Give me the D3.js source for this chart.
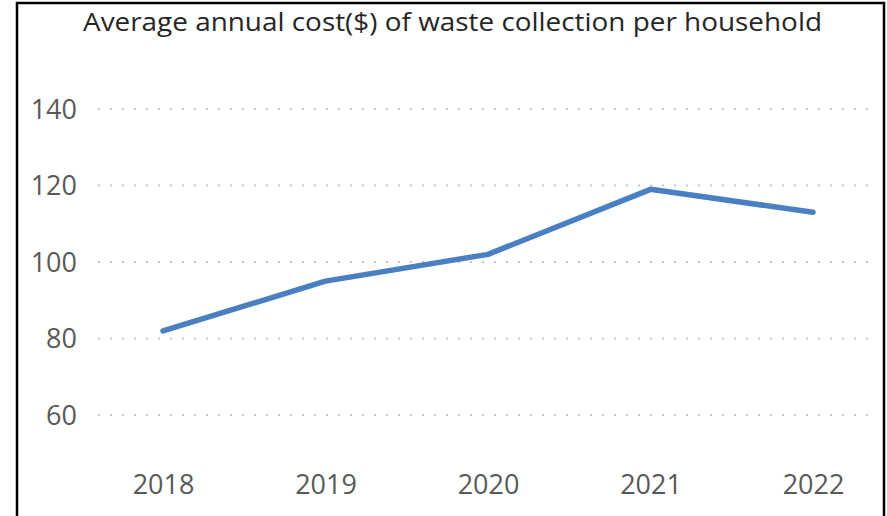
<!DOCTYPE html>
<html><head><meta charset="utf-8">
<script src="https://cdn.jsdelivr.net/npm/d3@7"></script>
<style>
html,body{margin:0;padding:0;background:#fff;}
svg{display:block;}
</style></head>
<body>
<script>
const title = "Average annual cost($) of waste collection per household";
const years = ["2018","2019","2020","2021","2022"];
const costs = [82, 95, 102, 119, 113];
const yTicks = [60, 80, 100, 120, 140];

const W = 887, H = 516;
const svg = d3.select("body").append("svg").attr("width", W).attr("height", H);
svg.append("rect").attr("width", W).attr("height", H).attr("fill", "#fff");

// frame
svg.append("path")
  .attr("d", `M17,${H+2} V3 H884 V${H+2}`)
  .attr("fill", "none").attr("stroke", "#000").attr("stroke-width", 2.5);

const x = d3.scalePoint().domain(years).range([163, 813]);
const y = d3.scaleLinear().domain([60, 140]).range([415, 109]);

const font = "'Open Sans', sans-serif";

// gridlines
svg.append("g").selectAll("line").data(yTicks).join("line")
  .attr("x1", 98).attr("x2", 868)
  .attr("y1", d => y(d)).attr("y2", d => y(d))
  .attr("stroke", "#c8c8c8").attr("stroke-width", 2)
  .attr("stroke-dasharray", "2,10");

// y axis labels
const yAxis = d3.axisLeft(y).tickValues(yTicks).tickSize(0).tickPadding(0);
const gy = svg.append("g").attr("transform", "translate(77,0)").call(yAxis);
gy.select(".domain").remove();
gy.selectAll("text").attr("font-family", font).attr("font-size", 27)
  .attr("fill", "#595959").attr("dy", "0.35em");

// x axis labels
const xAxis = d3.axisBottom(x).tickSize(0).tickPadding(0);
const gx = svg.append("g").attr("transform", "translate(0,494)").call(xAxis);
gx.select(".domain").remove();
gx.selectAll("text").attr("font-family", font).attr("font-size", 27)
  .attr("fill", "#595959").attr("dy", 0);

// line
const line = d3.line().x((d, i) => x(years[i])).y(d => y(d));
svg.append("path").datum(costs)
  .attr("d", line)
  .attr("fill", "none").attr("stroke", "#4a7fc2").attr("stroke-width", 5.5)
  .attr("stroke-linecap", "round").attr("stroke-linejoin", "round");

// title
svg.append("text").text(title)
  .attr("x", 83).attr("y", 31).attr("text-anchor", "start")
  .attr("font-family", font).attr("font-size", 25).attr("fill", "#262626")
  .attr("textLength", 739).attr("lengthAdjust", "spacingAndGlyphs");
</script>
</body></html>
